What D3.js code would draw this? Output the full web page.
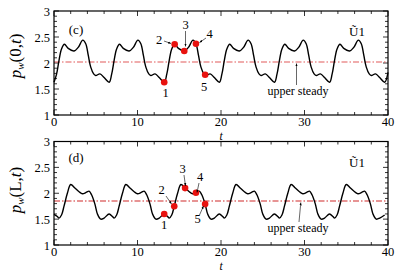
<!DOCTYPE html>
<html><head><meta charset="utf-8">
<script src="https://cdn.jsdelivr.net/npm/d3@7"></script>
<style>html,body{margin:0;padding:0;background:#fff;}svg{display:block;font-family:"Liberation Serif","Times New Roman",serif;}</style>
</head><body>
<svg id="chart" width="407" height="272"></svg>
<script>
// ---------- data ----------
const xTicks = [0, 10, 20, 30, 40];
const yTicks = [1, 1.5, 2, 2.5, 3];
const yTickLabels = ["1", "1.5", "2", "2.5", "3"];

// panel (c): p_w(0,t)
const tTop = [0,0.3,0.6,0.9,1.25,1.7,2.4,2.9,3.45,3.8,4.1,4.4,4.75,5.0,5.5,6.0,
  6.6,6.9,7.2,7.5,7.85,8.3,9.0,9.5,10.05,10.4,10.7,11.0,11.35,11.6,12.1,12.6,
  13.2,13.5,13.8,14.1,14.45,14.9,15.6,16.1,16.65,17.0,17.3,17.6,17.95,18.2,18.7,19.2,
  19.8,20.1,20.4,20.7,21.05,21.5,22.2,22.7,23.25,23.6,23.9,24.2,24.55,24.8,25.3,25.8,
  26.4,26.7,27.0,27.3,27.65,28.1,28.8,29.3,29.85,30.2,30.5,30.8,31.15,31.4,31.9,32.4,
  33.0,33.3,33.6,33.9,34.25,34.7,35.4,35.9,36.45,36.8,37.1,37.4,37.75,38.0,38.5,39.0,
  39.6,40.0];
const vTop = [1.63,1.78,2.05,2.27,2.36,2.28,2.23,2.30,2.44,2.37,2.15,1.92,1.79,1.76,1.79,1.72,
  1.63,1.78,2.05,2.27,2.36,2.28,2.23,2.30,2.44,2.37,2.15,1.92,1.79,1.76,1.79,1.72,
  1.63,1.78,2.05,2.27,2.36,2.28,2.23,2.30,2.44,2.37,2.15,1.92,1.79,1.76,1.79,1.72,
  1.63,1.78,2.05,2.27,2.36,2.28,2.23,2.30,2.44,2.37,2.15,1.92,1.79,1.76,1.79,1.72,
  1.63,1.78,2.05,2.27,2.36,2.28,2.23,2.30,2.44,2.37,2.15,1.92,1.79,1.76,1.79,1.72,
  1.63,1.78,2.05,2.27,2.36,2.28,2.23,2.30,2.44,2.37,2.15,1.92,1.79,1.76,1.79,1.72,
  1.63,1.82];
const steadyTop = 2.02;
const markTTop = [13.2, 14.45, 15.6, 17.0, 18.1];
const markVTop = [1.63, 2.36, 2.23, 2.37, 1.775];

// panel (d): p_w(L,t)
const tBot = [0,0.4,
  0.6,0.9,1.2,1.6,2.0,2.5,3.0,3.4,3.9,4.2,4.5,4.9,5.2,5.6,6.0,6.6,7.0,
  7.2,7.5,7.8,8.2,8.6,9.1,9.6,10.0,10.5,10.8,11.1,11.5,11.8,12.2,12.6,13.2,13.6,
  13.8,14.1,14.4,14.8,15.2,15.7,16.2,16.6,17.1,17.4,17.7,18.1,18.4,18.8,19.2,19.8,20.2,
  20.4,20.7,21.0,21.4,21.8,22.3,22.8,23.2,23.7,24.0,24.3,24.7,25.0,25.4,25.8,26.4,26.8,
  27.0,27.3,27.6,28.0,28.4,28.9,29.4,29.8,30.3,30.6,30.9,31.3,31.6,32.0,32.4,33.0,33.4,
  33.6,33.9,34.2,34.6,35.0,35.5,36.0,36.4,36.9,37.2,37.5,37.9,38.2,38.6,39.0,39.6,40.0];
const vBot = [1.59,1.55,
  1.52,1.58,1.75,2.0,2.17,2.10,2.03,1.99,2.02,2.04,1.97,1.79,1.60,1.50,1.52,1.60,1.55,
  1.52,1.58,1.75,2.0,2.17,2.10,2.03,1.99,2.02,2.04,1.97,1.79,1.60,1.50,1.52,1.60,1.55,
  1.52,1.58,1.75,2.0,2.17,2.10,2.03,1.99,2.02,2.04,1.97,1.79,1.60,1.50,1.52,1.60,1.55,
  1.52,1.58,1.75,2.0,2.17,2.10,2.03,1.99,2.02,2.04,1.97,1.79,1.60,1.50,1.52,1.60,1.55,
  1.52,1.58,1.75,2.0,2.17,2.10,2.03,1.99,2.02,2.04,1.97,1.79,1.60,1.50,1.52,1.60,1.55,
  1.52,1.58,1.75,2.0,2.17,2.10,2.03,1.99,2.02,2.04,1.97,1.79,1.60,1.50,1.52,1.58];
const steadyBot = 1.85;
const markTBot = [13.2, 14.4, 15.7, 17.0, 18.1];
const markVBot = [1.60, 1.75, 2.10, 2.01, 1.79];
const markLabels = ["1", "2", "3", "4", "5"];

// ---------- drawing ----------
const svg = d3.select("#chart");
const defs = svg.append("defs");
defs.append("marker").attr("id","ah").attr("viewBox","0 0 10 10").attr("refX",10).attr("refY",5)
  .attr("markerWidth",5).attr("markerHeight",5).attr("orient","auto-start-reverse")
  .append("path").attr("d","M0,1 L10,5 L0,9 z").attr("fill","#000");

function panel(o) {
  const x = d3.scaleLinear().domain([0, 40]).range([54, 388]);
  const y = d3.scaleLinear().domain([1, 3]).range([o.y0, o.y1]);
  const g = svg.append("g");
  const minorX = d3.range(0, 40.001, 2);
  const minorY = d3.range(1, 3.0001, 0.1);
  const tk = g.append("g").attr("stroke", "#000").attr("stroke-width", 0.8);
  minorX.forEach(v => {
    const L = (Math.abs(v % 10) < 1e-6) ? 5 : 3;
    tk.append("line").attr("x1", x(v)).attr("x2", x(v)).attr("y1", y(1)).attr("y2", y(1) - L);
    tk.append("line").attr("x1", x(v)).attr("x2", x(v)).attr("y1", y(3)).attr("y2", y(3) + L);
  });
  minorY.forEach(v => {
    const r = Math.round(v * 10);
    const L = (r % 5 === 0) ? 5 : 3;
    tk.append("line").attr("x1", x(0)).attr("x2", x(0) + L).attr("y1", y(v)).attr("y2", y(v));
    tk.append("line").attr("x1", x(40)).attr("x2", x(40) - L).attr("y1", y(v)).attr("y2", y(v));
  });
  // steady line
  g.append("line").attr("x1", x(0)).attr("x2", x(40)).attr("y1", y(o.steady)).attr("y2", y(o.steady))
    .attr("stroke", o.steadyColor).attr("stroke-width", 1.1).attr("stroke-dasharray", "6,2,1.5,2");
  // curve
  const pts = o.t.map((t, i) => [t, o.v[i]]);
  g.append("path").datum(pts)
    .attr("d", d3.line().x(d => x(d[0])).y(d => y(d[1])).curve(d3.curveCatmullRom.alpha(0.5)))
    .attr("fill", "none").attr("stroke", "#000").attr("stroke-width", 1.4);
  // frame
  g.append("rect").attr("x", x(0)).attr("y", y(3)).attr("width", x(40) - x(0)).attr("height", y(1) - y(3))
    .attr("fill", "none").attr("stroke", "#000").attr("stroke-width", 1.2);
  // tick labels
  g.selectAll(".yl").data(yTicks).enter().append("text")
    .attr("x", 50).attr("y", d => y(d) + 4.5).attr("text-anchor", "end").attr("font-size", 12.5)
    .text((d, i) => yTickLabels[i]);
  g.selectAll(".xl").data(xTicks).enter().append("text")
    .attr("x", d => x(d)).attr("y", y(1) + 10.5).attr("text-anchor", "middle").attr("font-size", 12.5)
    .text(d => d);
  g.append("text").attr("x", 221).attr("y", y(1) + 24.5).attr("text-anchor", "middle")
    .attr("font-size", 11.5).attr("font-style", "italic").text("t");
  // y axis title
  const yt = g.append("text").attr("transform", `translate(21,${o.ylabY}) rotate(-90)`)
    .attr("text-anchor", "middle").attr("font-size", 17);
  yt.append("tspan").attr("font-style", "italic").text("p");
  yt.append("tspan").attr("font-style", "italic").attr("font-size", 11).attr("dy", 3).text("w");
  yt.append("tspan").attr("dy", -3).text("(" + o.arg + ",");
  yt.append("tspan").attr("font-style", "italic").text("t");
  yt.append("tspan").text(")");
  // panel label & legend
  g.append("text").attr("x", 76).attr("y", y(o.panelV) ).attr("text-anchor", "middle").attr("font-size", 13).text(o.name);
  g.append("text").attr("x", 357).attr("y", o.legendY).attr("text-anchor", "middle").attr("font-size", 13).text("\u0168" + "1");
  // upper steady
  g.append("text").attr("x", 298).attr("y", o.usY).attr("text-anchor", "middle").attr("font-size", 12).text("upper steady");
  g.append("line").attr("x1", o.usArrow[0]).attr("y1", o.usArrow[1]).attr("x2", o.usArrow[2]).attr("y2", y(o.steady) + 1.5)
    .attr("stroke", "#000").attr("stroke-width", 0.6).attr("marker-end", "url(#ah)");
  // markers
  g.selectAll(".mk").data(o.mt).enter().append("circle")
    .attr("cx", d => x(d)).attr("cy", (d, i) => y(o.mv[i])).attr("r", 3.3).attr("fill", "#e8120f");
  o.labels.forEach((L, i) => {
    g.append("text").attr("x", L[0]).attr("y", L[1]).attr("text-anchor", "middle").attr("font-size", 12.5).text(markLabels[i]);
    if (L[2] !== null) {
      g.append("line").attr("x1", L[2]).attr("y1", L[3]).attr("x2", L[4]).attr("y2", L[5])
        .attr("stroke", "#000").attr("stroke-width", 0.6).attr("marker-end", "url(#ah)");
    }
  });
}

panel({ y0: 115, y1: 11, t: tTop, v: vTop, steady: steadyTop, steadyColor: "#e25a5a",
  arg: "0", name: "(c)", panelV: 2.55, legendY: 36, usY: 95, usArrow: [296.5, 85, 296.5],
  mt: markTTop, mv: markVTop, ylabY: 56,
  labels: [[165.5, 97, null], [159, 44, 164, 41, 171, 43.5], [185.5, 29, 185.5, 31, 185.5, 46.5],
           [209.5, 38, 206, 38, 199.5, 42.5], [204, 91, null]] });

panel({ y0: 245, y1: 141.5, t: tBot, v: vBot, steady: steadyBot, steadyColor: "#cf2a2a",
  arg: "L", name: "(d)", panelV: 2.6, legendY: 167, usY: 232, usArrow: [299, 222, 300.8],
  mt: markTBot, mv: markVBot, ylabY: 190,
  labels: [[164, 229, null], [161.5, 194, 166, 196, 171.5, 204], [182.5, 173, 184, 175, 185.5, 186],
           [200, 180.5, 199, 183, 197, 192.5], [197.5, 223, 199.5, 215, 203.5, 206]] });
</script>
</body></html>
